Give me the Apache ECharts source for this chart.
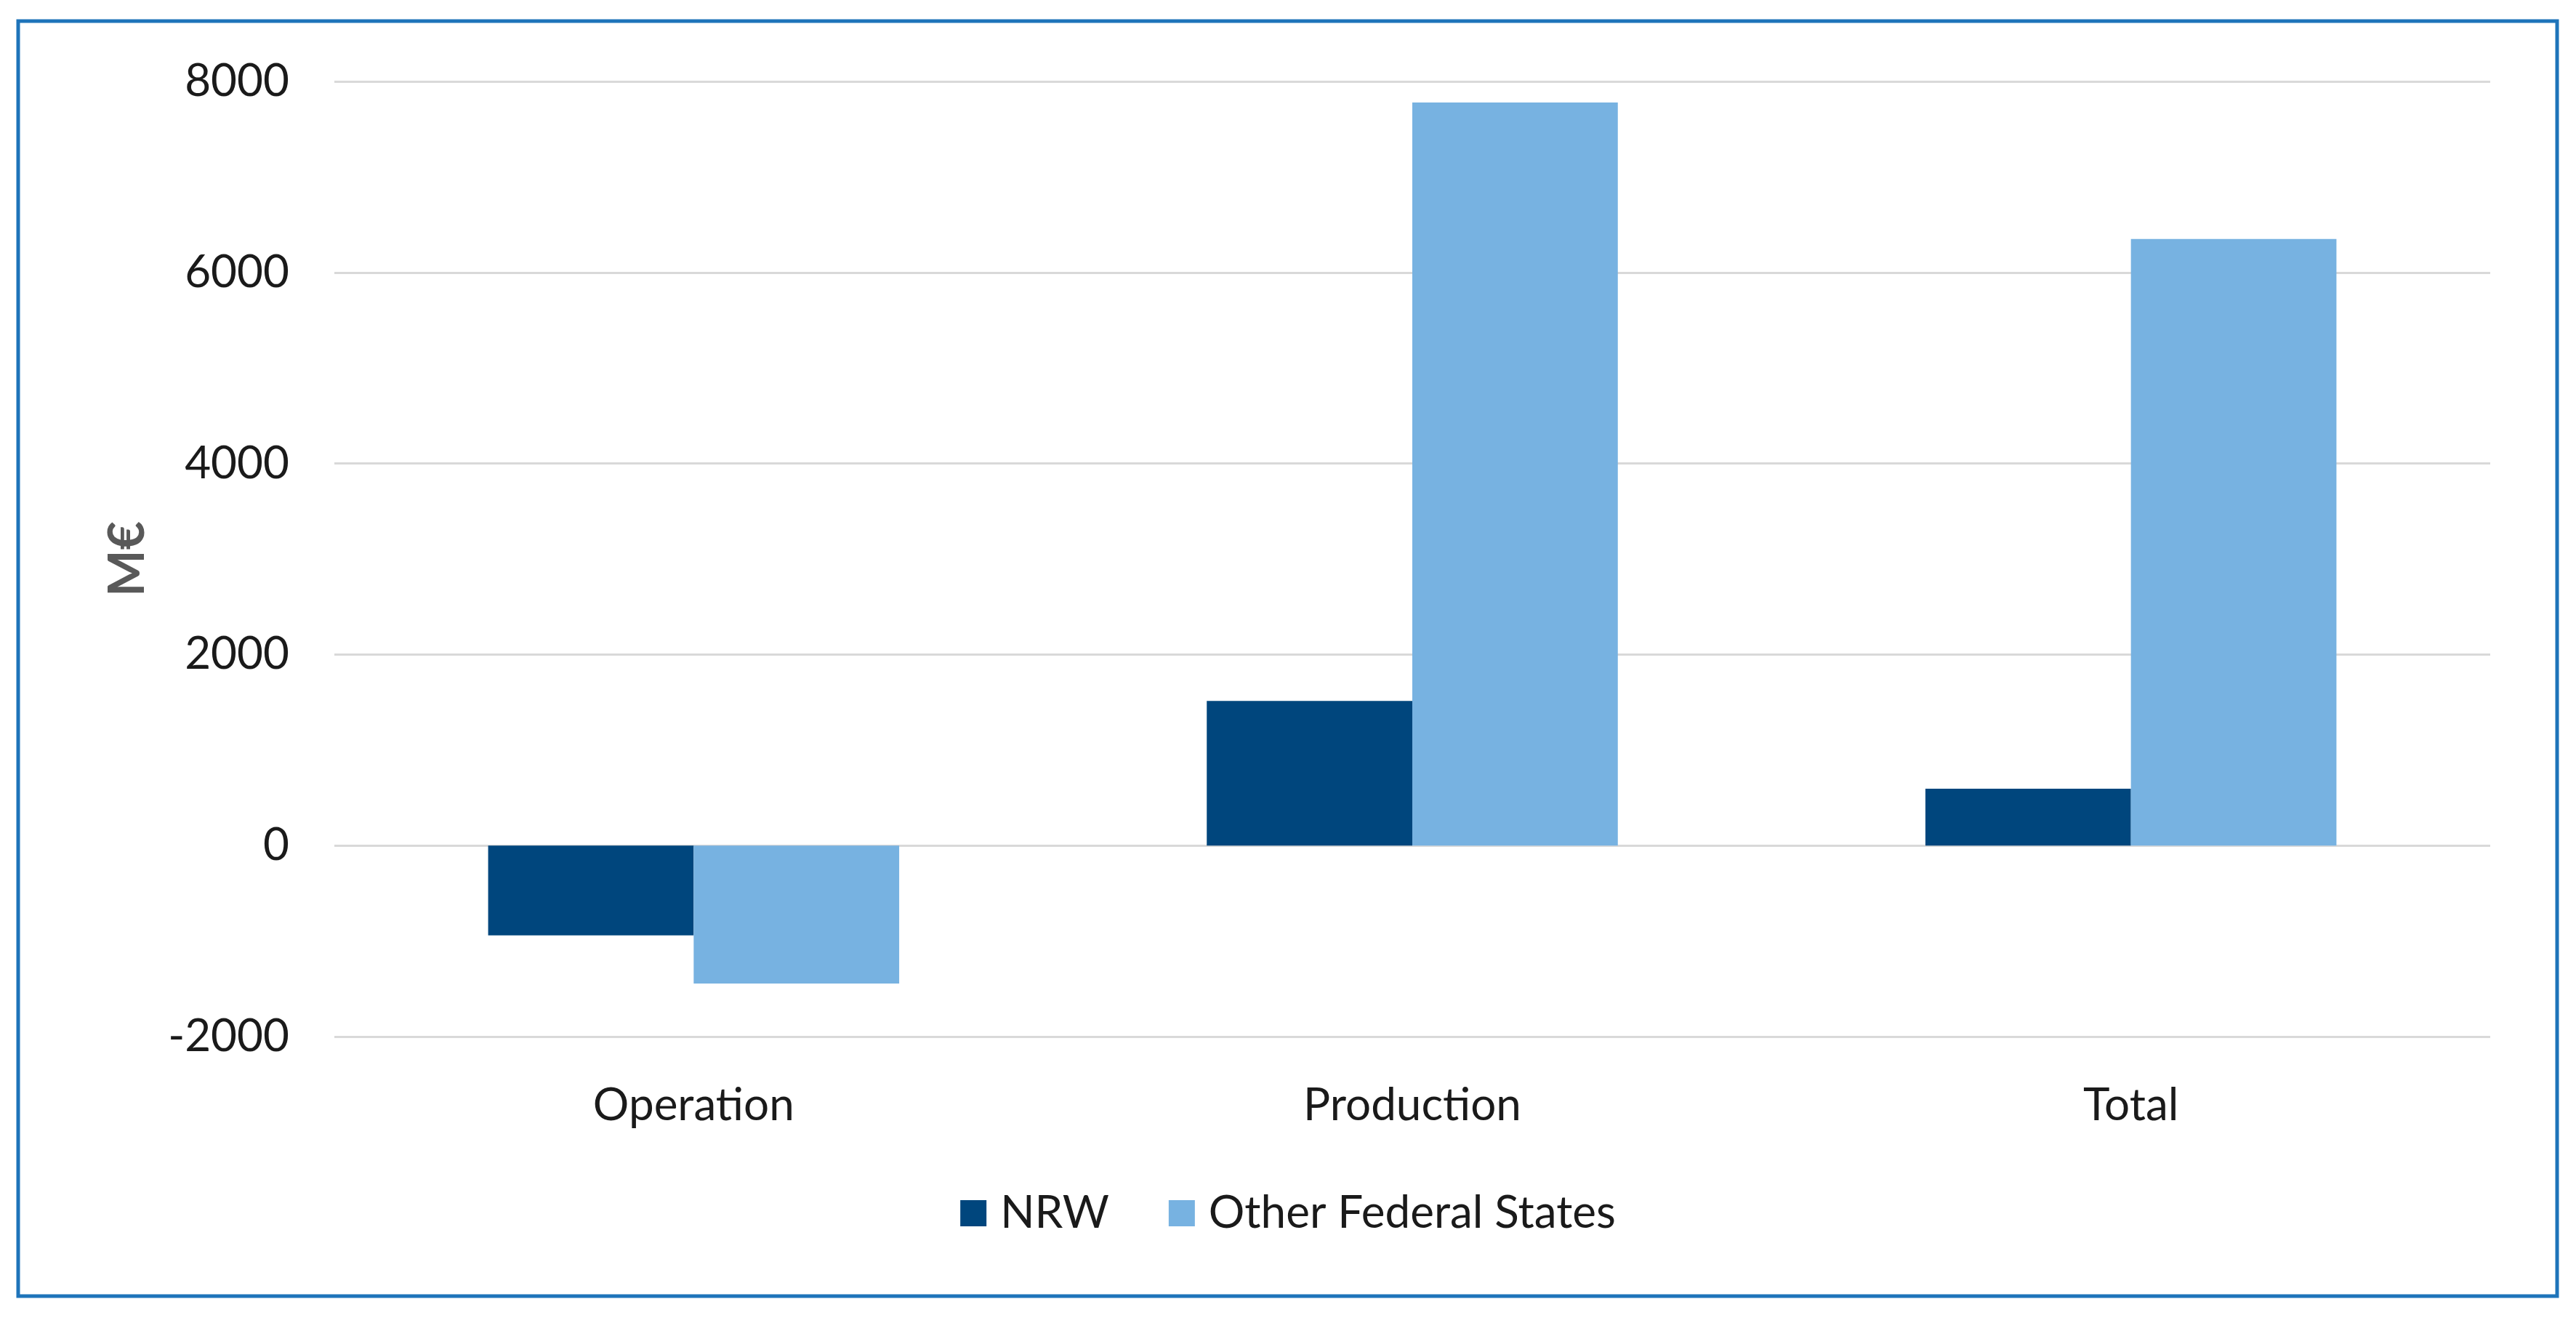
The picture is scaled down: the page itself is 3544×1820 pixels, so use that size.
<!DOCTYPE html>
<html>
<head>
<meta charset="utf-8">
<script src="https://cdn.jsdelivr.net/npm/echarts@6/dist/echarts.min.js"></script>
<style>
html,body{margin:0;padding:0;background:#fff;}
#chart{width:3544px;height:1820px;}
</style>
</head>
<body>
<div id="chart"></div>
<script>
const categories = ['Operation', 'Production', 'Total'];
const nrwValues = [-940, 1515, 595];
const otherValues = [-1445, 7780, 6350];
const seriesNames = ['NRW', 'Other Federal States'];
const yTicks = { min: -2000, max: 8000, interval: 2000 };
const yAxisName = 'M€';

const FONT = 'Lato, "Open Sans", sans-serif';
const chart = echarts.init(document.getElementById('chart'), null, { renderer: 'canvas' });
chart.setOption({
  backgroundColor: '#ffffff',
  animation: false,
  textStyle: { fontFamily: FONT },
  graphic: [{
    type: 'rect',
    shape: { x: 25, y: 29, width: 3493, height: 1754 },
    style: { fill: null, stroke: '#1E74BA', lineWidth: 5 },
    silent: true
  }],
  grid: { left: 460, right: 118, top: 112, bottom: 394, containLabel: false },
  legend: {
    data: seriesNames,
    left: 'center',
    top: 1633,
    icon: 'rect',
    itemWidth: 36,
    itemHeight: 36,
    itemGap: 82,
    textStyle: { fontSize: 62, color: '#1a1a1a', fontFamily: FONT, padding: [0, 0, 0, 14] }
  },
  xAxis: {
    type: 'category',
    data: categories,
    axisLine: { show: false, onZero: false },
    axisTick: { show: false },
    axisLabel: { fontSize: 62, color: '#1a1a1a', margin: 64, fontFamily: FONT },
    splitLine: { show: false }
  },
  yAxis: {
    type: 'value',
    min: yTicks.min,
    max: yTicks.max,
    interval: yTicks.interval,
    name: yAxisName,
    nameLocation: 'middle',
    nameRotate: 90,
    nameGap: 250,
    nameTextStyle: { fontSize: 68, fontWeight: 'bold', color: '#595959', fontFamily: FONT },
    axisLine: { show: false },
    axisTick: { show: false },
    axisLabel: { fontSize: 62, color: '#1a1a1a', margin: 62, fontFamily: FONT, formatter: function (v) { return String(v); } },
    splitLine: { lineStyle: { color: '#D9D9D9', width: 3 } }
  },
  series: [
    {
      name: seriesNames[0],
      type: 'bar',
      data: nrwValues,
      barGap: '0%',
      barCategoryGap: '42.8%',
      itemStyle: { color: '#00467D' }
    },
    {
      name: seriesNames[1],
      type: 'bar',
      data: otherValues,
      barGap: '0%',
      barCategoryGap: '42.8%',
      itemStyle: { color: '#77B2E1' }
    }
  ]
});
</script>
</body>
</html>
